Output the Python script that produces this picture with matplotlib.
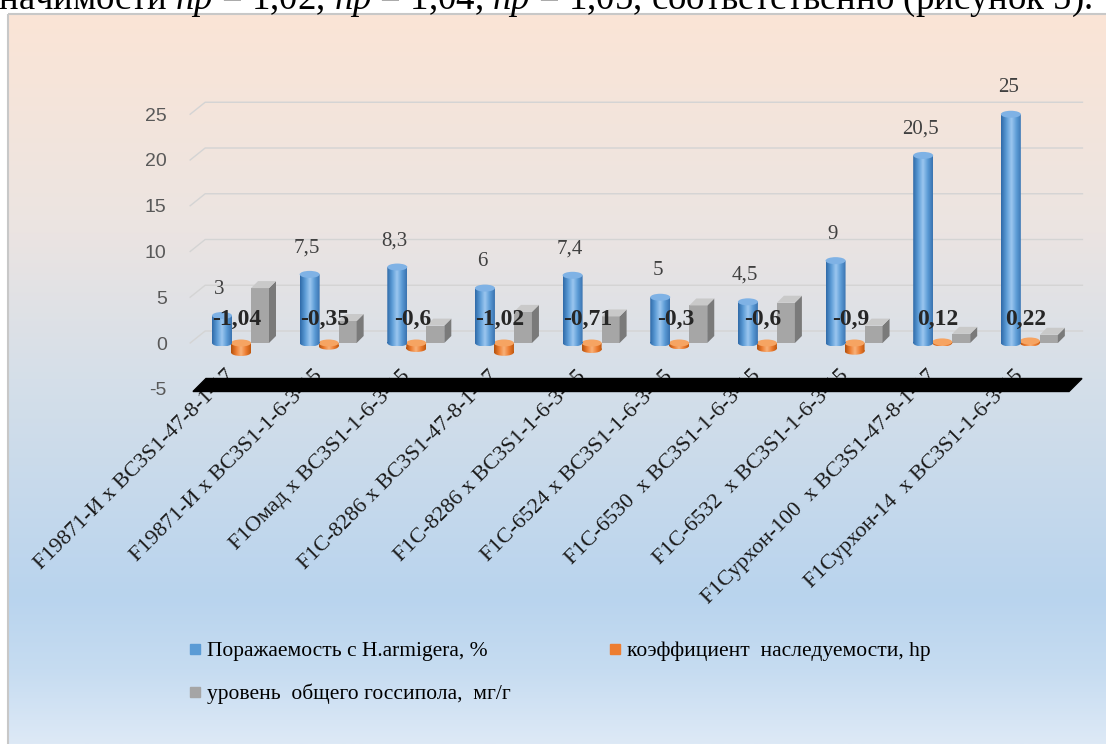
import numpy as np
import matplotlib.pyplot as plt
from matplotlib.colors import LinearSegmentedColormap
from matplotlib.patches import Rectangle, Ellipse, Polygon, PathPatch
from matplotlib.path import Path
from matplotlib.lines import Line2D

plt.rcParams['font.family'] = ['Liberation Serif', 'DejaVu Serif']
plt.rcParams['mathtext.fontset'] = 'custom'
plt.rcParams['mathtext.rm'] = 'Liberation Serif'
plt.rcParams['mathtext.it'] = 'Liberation Serif:italic'

# hybrid combinations along the x axis
hybrids = [
    "F19871-И x BC3S1-47-8-1-17",
    "F19871-И x BC3S1-1-6-3-15",
    "F1Омад x BC3S1-1-6-3-15",
    "F1C-8286 x BC3S1-47-8-1-17",
    "F1C-8286 x BC3S1-1-6-3-15",
    "F1C-6524 x BC3S1-1-6-3-15",
    "F1C-6530  x BC3S1-1-6-3-15",
    "F1C-6532  x BC3S1-1-6-3-15",
    "F1Сурхон-100  x BC3S1-47-8-1-17",
    "F1Сурхон-14  x BC3S1-1-6-3-15",
]
damage = [3, 7.5, 8.3, 6, 7.4, 5, 4.5, 9, 20.5, 25]            # % H.armigera damage
heritability = [-1.04, -0.35, -0.6, -1.02, -0.71, -0.3, -0.6, -0.9, 0.12, 0.22]
gossypol = [6.0, 2.4, 1.9, 3.4, 2.9, 4.1, 4.4, 1.9, 1.0, 0.9]   # mg/g
yticks = [-5, 0, 5, 10, 15, 20, 25]
series_names = [
    "Поражаемость с H.armigera, %",
    "коэффициент  наследуемости, hp",
    "уровень  общего госсипола,  мг/г",
]
caption = "значимости $hp$ = 1,02, $hp$ = 1,04, $hp$ = 1,05, соответственно (рисунок 5)."

W, H = 1106, 744
fig = plt.figure(figsize=(W / 100, H / 100), dpi=100)

# page background: gradient chart area with a thin frame
bg = fig.add_axes([0, 0, 1, 1], zorder=0)
bg.set_xlim(0, W)
bg.set_ylim(H, 0)
bg.axis('off')
bg_cmap = LinearSegmentedColormap.from_list('bg', [
    (0.0, '#fbe5d6'), (0.3, '#ebe4e2'), (0.5, '#d5dfe9'),
    (0.8, '#b9d4ee'), (0.9, '#c6dcf1'), (1.0, '#dde9f6')])
bg.imshow(np.linspace(0, 1, 256)[:, None], cmap=bg_cmap, extent=(8, W, H, 14),
          aspect='auto', interpolation='bilinear')
bg.add_patch(Rectangle((8, 14), W, H, fill=False, ec='#c8c8c8', lw=1.5))
fig.text(1092 / W, 1 - 9 / H, caption, ha='right', va='baseline', fontsize=26.5)

# plotting area
ax = fig.add_axes([175 / W, 1 - 425.35 / H, (1090 - 175) / W, 356.85 / H], zorder=1)
ax.patch.set_alpha(0)
ax.set_xlim((175 - 241) / 87.65, (1090 - 241) / 87.65)
ax.set_ylim(-9, 30)
for s in ax.spines.values():
    s.set_visible(False)
ax.set_xticks([])
ax.set_yticks(yticks)
ax.set_yticklabels([str(t) for t in yticks], family='Liberation Sans',
                   fontsize=14, color='#595959')
ax.tick_params(axis='y', length=0, pad=6)


def px(dx, dy=0):
    """pixel offset -> data offset"""
    inv = ax.transData.inverted()
    a = inv.transform((0, 0))
    b = inv.transform((dx, dy))
    return b - a


# back wall gridlines with perspective kink
gx, gy = px(15, 12)
for t in yticks[1:]:
    ax.plot([-0.58, -0.58 + gx, 9.6], [t, t + gy, t + gy],
            color='#d4d4d4', lw=1, zorder=1)

# black floor slab at the axis minimum
fx, fy = px(13, 13)
ax.add_patch(Polygon([(-0.548, -5.3), (9.447, -5.3), (9.447 + fx, -5.3 + fy),
                      (-0.548 + fx, -5.3 + fy)], fc='black', ec='black', zorder=5))

cyl_w = px(20)[0]
ell_h = px(0, 7)[1]
blue_off = px(-19)[0]
gray_off = px(19)[0]
gray_w = px(18)[0]
dep_x, dep_y = px(7, 7)

blue_cmap = LinearSegmentedColormap.from_list(
    'b', ['#2f6aa8', '#5b9bd5', '#9cc7f0', '#5b9bd5', '#3a73b0'])
orange_cmap = LinearSegmentedColormap.from_list(
    'o', ['#b3500d', '#ed7d31', '#f8b27a', '#ed7d31', '#c0580e'])


def cylinder(x, v, width, cmap, top_color, z):
    lo, hi = min(0, v), max(0, v)
    rect = Path([(x - width / 2, lo), (x + width / 2, lo), (x + width / 2, hi),
                 (x - width / 2, hi), (x - width / 2, lo)], closed=True)
    ell = Ellipse((x, lo), width, ell_h)
    bottom = ell.get_patch_transform().transform_path(ell.get_path())
    clip = PathPatch(Path.make_compound_path(rect, bottom), transform=ax.transData,
                     fc='none', ec='none')
    ax.add_patch(clip)
    im = ax.imshow(np.linspace(0, 1, 64)[None, :], cmap=cmap,
                   extent=(x - width / 2, x + width / 2, lo - ell_h / 2, hi),
                   aspect='auto', zorder=z, interpolation='bilinear')
    im.set_clip_path(clip)
    ax.add_patch(Ellipse((x, hi), width, ell_h, fc=top_color, ec='none', zorder=z + 0.1))


def box(x, v, width, z):
    l, r = x - width / 2, x + width / 2
    ax.add_patch(Rectangle((l, 0), width, v, fc='#a6a6a6', ec='none', zorder=z))
    ax.add_patch(Polygon([(r, 0), (r + dep_x, dep_y), (r + dep_x, v + dep_y), (r, v)],
                         fc='#7a7a7a', ec='none', zorder=z))
    ax.add_patch(Polygon([(l, v), (r, v), (r + dep_x, v + dep_y), (l + dep_x, v + dep_y)],
                         fc='#c9c9c9', ec='none', zorder=z))


def fmt(v):
    return f"{v:g}".replace('.', ',')


for i in range(len(hybrids)):
    box(i + gray_off, gossypol[i], gray_w, 2)
    cylinder(i, heritability[i], cyl_w, orange_cmap, '#f6a462', 3)
    cylinder(i + blue_off, damage[i], cyl_w, blue_cmap, '#7fb2e5', 4)

    ax.annotate(fmt(damage[i]), (i + blue_off, damage[i]), xytext=(-2, 19),
                textcoords='offset points', ha='center', va='center',
                fontsize=15, color='#404040', zorder=7)
    ax.text(i + px(-4)[0], 2.6, fmt(heritability[i]), ha='center', va='center',
            fontsize=17, fontweight='bold', color='#262626', zorder=8)
    ax.text(i + px(-9)[0], -3.3, hybrids[i], rotation=45, rotation_mode='anchor',
            ha='right', va='center', fontsize=16, color='#1a1a1a', zorder=2)

ax.set_xlim((175 - 241) / 87.65, (1090 - 241) / 87.65)
ax.set_ylim(-9, 30)

handles = [Line2D([], [], ls='none', marker='s', ms=6.5, mfc=c, mec=c)
           for c in ['#5b9bd5', '#a5a5a5', '#ed7d31']]
fig.legend(handles, [series_names[0], series_names[2], series_names[1]],
           ncol=2, loc='upper left', bbox_to_anchor=(190 / W, 1 - 641 / H),
           frameon=False, prop={'family': 'Liberation Serif', 'size': 15.5},
           handlelength=0.5, handletextpad=0.3, columnspacing=4.6,
           labelspacing=1.05, borderpad=0, borderaxespad=0)

fig.savefig('out.png', dpi=100)
